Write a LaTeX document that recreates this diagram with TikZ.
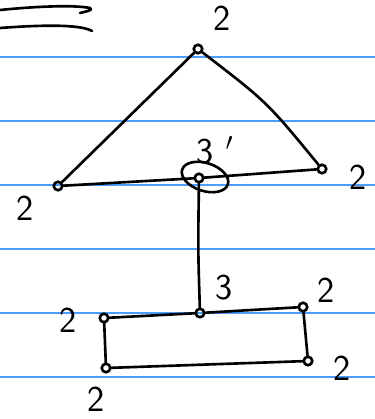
\documentclass[tikz,border=0pt]{standalone}
\usepackage{tikz}
\usetikzlibrary{positioning}

\begin{document}
\begin{tikzpicture}[
  x=0.02cm, y=-0.02cm,
  vtx/.style={draw, circle, line width=1.5pt, inner sep=0pt, minimum size=0.17cm},
  lbl/.style={font=\sffamily\huge, inner sep=0pt},
  edge/.style={line width=1.5pt, line cap=round, line join=round},
  rule/.style={draw=blue!55!cyan!70, line width=0.6pt},
]
\useasboundingbox (0,0) rectangle (375,419);

%% Paper rules
\foreach \yy in {57,121,185,249,313,377}
  \draw[rule] (0,\yy) -- (375,\yy);

%% Scribble at top left
\draw[edge] (0,10) .. controls (40,6) and (75,5) .. (90,8) .. controls (92,10) .. (80,13);
\draw[edge] (0,28) .. controls (40,25) and (80,24) .. (92,31);

%% Triangle
\node[vtx] (top) at (198,49) {};
\node[vtx] (lft) at (58,186) {};
\node[vtx] (rgt) at (322,169) {};
\node[vtx] (mid) at (199,178) {};
\draw[edge] (205,177) ellipse[x radius=24, y radius=14, rotate=-18];

\draw[edge] (top) -- (lft);
\draw[edge] (top) .. controls (267,102) .. (rgt);
\draw[edge] (lft) -- (mid) -- (rgt);

%% Stem
\node[vtx] (rtop) at (200,313) {};
\draw[edge] (mid) .. controls (198,250) .. (rtop);

%% Rectangle
\node[vtx] (rtl) at (104,318) {};
\node[vtx] (rtr) at (303,307) {};
\node[vtx] (rbl) at (106,368) {};
\node[vtx] (rbr) at (308,361) {};
\draw[edge] (rtl) -- (rtop) -- (rtr) -- (rbr) -- (rbl) -- (rtl);

%% Labels
\node[lbl] (l1) at (222,18) {2};
\node[lbl] (l2) at (215,150) {3\,\,$'$};
\node[lbl] (l3) at (25,208) {2};
\node[lbl] (l4) at (358,177) {2};
\node[lbl] (l5) at (224,288) {3};
\node[lbl] (l6) at (326,290) {2};
\node[lbl] (l7) at (68,320) {2};
\node[lbl] (l8) at (342,368) {2};
\node[lbl] (l9) at (96,399) {2};

\end{tikzpicture}
\end{document}
